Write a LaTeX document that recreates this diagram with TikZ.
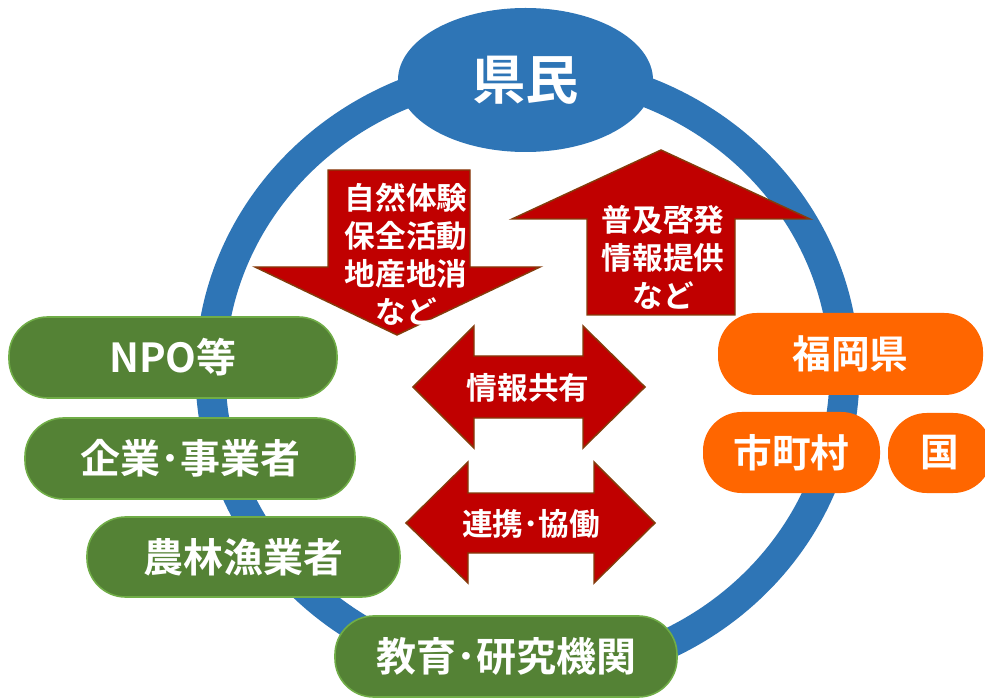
\documentclass[tikz,border=0pt]{standalone}
\usepackage{fontspec}
\setmainfont{Noto Sans CJK JP}[BoldFont={Noto Sans CJK JP Bold}]
\usetikzlibrary{shapes.geometric}
\definecolor{ringblue}{HTML}{2E75B6}
\definecolor{boxgreen}{HTML}{548235}
\definecolor{boxgreenline}{HTML}{70AD47}
\definecolor{boxorange}{HTML}{FF6600}
\definecolor{arrowred}{HTML}{C00000}
\definecolor{arrowline}{HTML}{843C0C}
\tikzset{
  ring/.style={draw=ringblue, line width=22.5pt},
  greenbox/.style={rectangle, fill=boxgreen, draw=boxgreenline, line width=1.2pt, rounded corners=29pt, inner sep=0pt, text=white, font=\bfseries\fontsize{30}{36}\selectfont},
  orangebox/.style={rectangle, fill=boxorange, rounded corners=29pt, inner sep=0pt, text=white, font=\bfseries\fontsize{29}{35}\selectfont},
  redarrow/.style={fill=arrowred, draw=arrowline, line width=1.1pt, line join=miter},
  arrowtext/.style={text=white, font=\bfseries\fontsize{23}{28.5}\selectfont, align=center, inner sep=0pt},
}
\begin{document}
\begin{tikzpicture}[x=0.75pt, y=-0.75pt]
\clip (0,0) rectangle (985,698);
\fill[white] (0,0) rectangle (985,698);
% ring
\draw[ring] (527.5,372.6) ellipse [x radius=317, y radius=302.5];
% top ellipse
\node[ellipse, fill=ringblue, inner sep=0pt, minimum width=255*0.75pt, minimum height=144*0.75pt, text=white, font=\bfseries\fontsize{40}{48}\selectfont] (kenmin) at (525.5,80) {県民};
% down arrow
\draw[redarrow] (328,170) -- (470,170) -- (470,267) -- (540,267) -- (397,335) -- (255,267) -- (328,267) -- cycle;
\node[arrowtext] (down) at (406,254) {自然体験\\保全活動\\地産地消\\など};
% up arrow
\draw[redarrow] (661,150) -- (810,219) -- (735,219) -- (735,315) -- (587,315) -- (587,219) -- (512,219) -- cycle;
\node[arrowtext] (up) at (663,257) {普及啓発\\情報提供\\など};
% double arrow 1
\draw[redarrow] (413,387) -- (474,326) -- (474,356) -- (583,356) -- (583,326) -- (645,387) -- (583,448) -- (583,418) -- (474,418) -- (474,448) -- cycle;
\node[arrowtext] (share) at (528,388) {情報共有};
% double arrow 2
\draw[redarrow] (406,523) -- (468,462) -- (468,493) -- (594,493) -- (594,462) -- (655,523) -- (594,583) -- (594,553) -- (468,553) -- (468,583) -- cycle;
\node[arrowtext] (coop) at (531,524) {連携･協働};
% green boxes
\node[greenbox, minimum width=328*0.75pt, minimum height=81*0.75pt] (npo) at (173,357.5) {NPO等};
\node[greenbox, minimum width=330*0.75pt, minimum height=81*0.75pt] (kigyo) at (190,458.5) {企業･事業者};
\node[greenbox, minimum width=313*0.75pt, minimum height=80*0.75pt] (nourin) at (243.5,557) {農林漁業者};
\node[greenbox, minimum width=342*0.75pt, minimum height=81*0.75pt] (kyoiku) at (506,656.5) {教育･研究機関};
% orange boxes
\node[orangebox, minimum width=265*0.75pt, minimum height=82*0.75pt] (fukuoka) at (850.5,354) {福岡県};
\node[orangebox, minimum width=177*0.75pt, minimum height=81*0.75pt] (shichoson) at (791.5,452.5) {市町村};
\node[orangebox, minimum width=104*0.75pt, minimum height=80*0.75pt] (kuni) at (940,453) {国};
\end{tikzpicture}
\end{document}
